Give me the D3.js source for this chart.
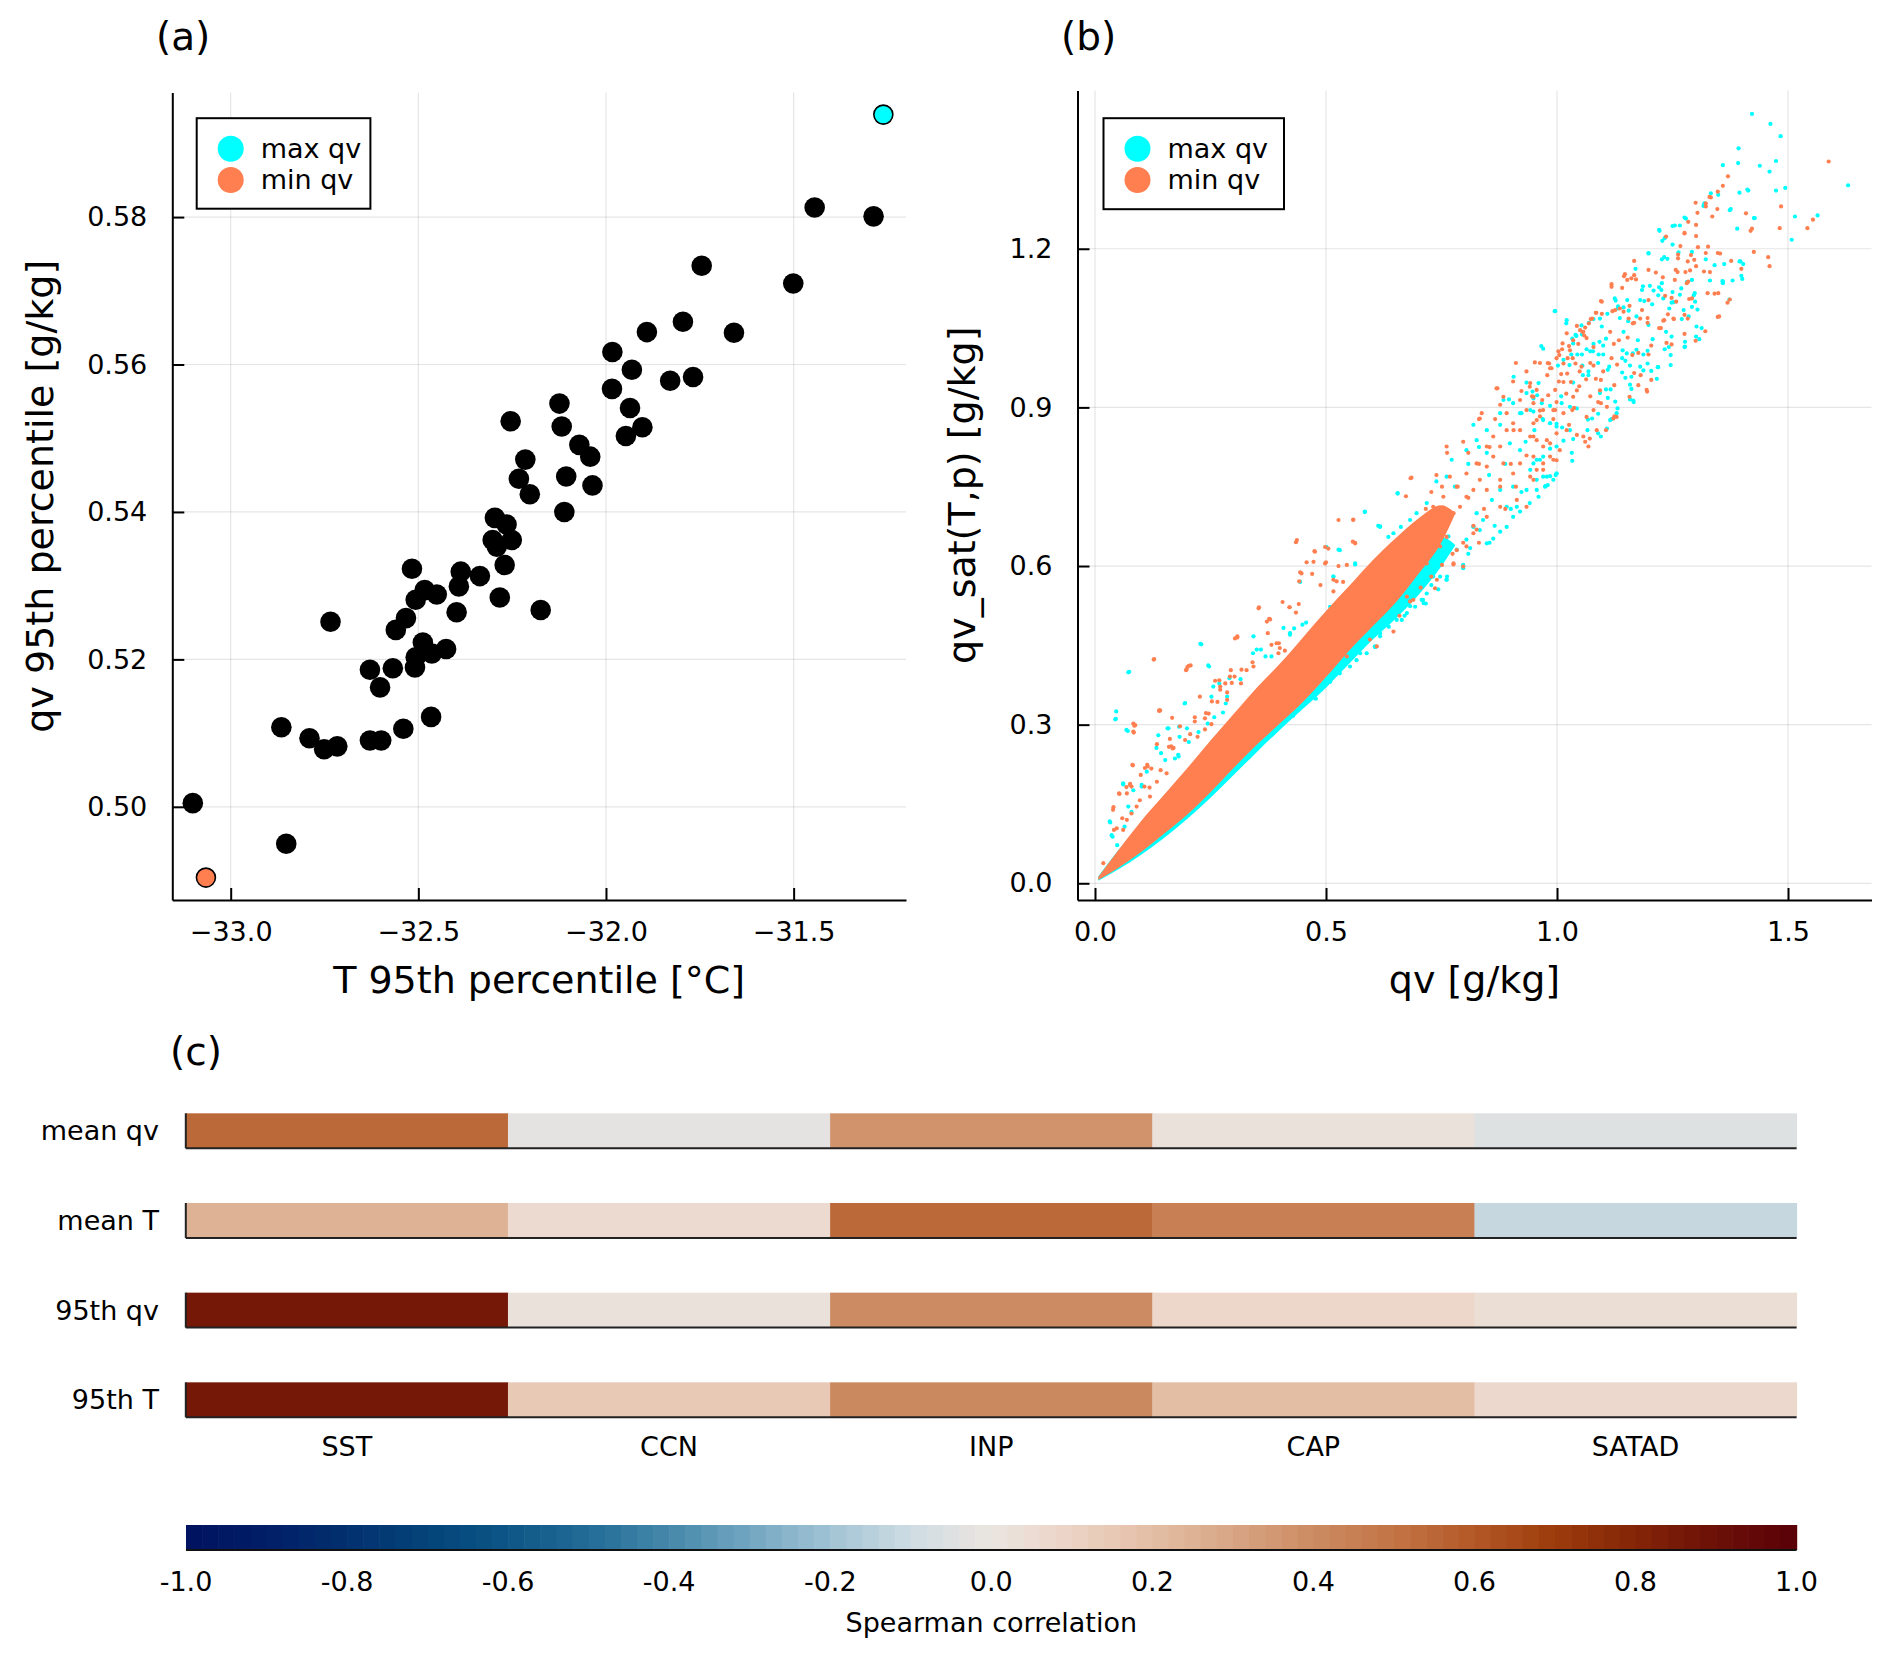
<!DOCTYPE html>
<html lang="en">
<head>
<meta charset="UTF-8">
<title>qv / T percentiles and Spearman correlation</title>
<script src="https://d3js.org/d3.v7.min.js"></script>
<style>
    body {
        margin: 0;
        background-color: #ffffff;
    }

    svg {
        display: block;
        font-family: 'DejaVu Sans', sans-serif;
    }

    .grid line {
        stroke: #000;
        stroke-opacity: 0.1;
        stroke-width: 1.2;
    }

    .axis path,
    .axis line {
        stroke: #000;
        stroke-width: 2;
    }

    .axis text {
        font-family: 'DejaVu Sans', sans-serif;
        font-size: 27px;
        fill: #000;
    }
</style>
</head>
<body>
<svg id="chart" width="1892" height="1658"></svg>
<script>
// ---------- (a) ensemble members: 95th percentiles ----------
const t95 = [-31.444, -31.287, -31.745, -31.501, -31.795, -31.891, -31.659, -31.983, -31.931, -31.829,
    -31.768, -31.984, -32.124, -31.936, -32.118, -31.903, -31.947, -32.254, -32.071, -32.042,
    -32.215, -32.232, -32.106, -32.036, -32.203, -32.111, -32.296, -32.265, -32.302, -32.251,
    -32.291, -32.270, -32.336, -32.387, -32.392, -32.283, -32.174, -32.517, -32.483, -32.507,
    -32.451, -32.398, -32.533, -32.560, -32.734, -32.488, -32.507, -32.464, -32.426, -32.629,
    -32.568, -32.509, -32.602, -32.466, -32.540, -32.865, -32.790, -32.751, -32.716, -32.629,
    -32.599, -33.101, -32.852];
const qv95 = [0.5813, 0.5801, 0.5734, 0.5710, 0.5658, 0.5644, 0.5643, 0.5617, 0.5593, 0.5578,
    0.5583, 0.5567, 0.5547, 0.5541, 0.5516, 0.5515, 0.5503, 0.5523, 0.5491, 0.5475,
    0.5471, 0.5445, 0.5448, 0.5436, 0.5424, 0.5400, 0.5392, 0.5383, 0.5362, 0.5362,
    0.5353, 0.5328, 0.5313, 0.5319, 0.5299, 0.5284, 0.5267, 0.5323, 0.5294, 0.5281,
    0.5288, 0.5264, 0.5256, 0.5240, 0.5251, 0.5223, 0.5203, 0.5208, 0.5214, 0.5186,
    0.5188, 0.5189, 0.5162, 0.5122, 0.5106, 0.5108, 0.5093, 0.5078, 0.5082, 0.5090,
    0.5090, 0.5005, 0.4950];
const maxQvMember = [-31.261, 0.5939];
const minQvMember = [-33.066, 0.4904];
const tTicks = [-33.0, -32.5, -32.0, -31.5];
const qvTicks = [0.50, 0.52, 0.54, 0.56, 0.58];

// ---------- (b) qv vs qv_sat(T,p) ----------
// dense core of each cloud, lower / upper edge read along qv
const bandQv = [0.007, 0.05, 0.1, 0.15, 0.2, 0.25, 0.3, 0.35, 0.4, 0.45, 0.5, 0.55, 0.6, 0.65, 0.7, 0.75, 0.78];
const minBandLo = [0.006, 0.029, 0.059, 0.094, 0.130, 0.172, 0.218, 0.262, 0.302, 0.343, 0.390, 0.440, 0.485, 0.530, 0.585, 0.645, 0.700];
const minBandHi = [0.012, 0.062, 0.118, 0.168, 0.218, 0.270, 0.320, 0.370, 0.415, 0.465, 0.515, 0.562, 0.610, 0.652, 0.690, 0.715, 0.700];
const maxBandLo = [0.005, 0.026, 0.054, 0.086, 0.122, 0.162, 0.205, 0.248, 0.290, 0.330, 0.370, 0.415, 0.460, 0.500, 0.545, 0.600, 0.640];
const maxBandHi = [0.013, 0.062, 0.112, 0.160, 0.205, 0.250, 0.300, 0.350, 0.400, 0.450, 0.500, 0.540, 0.580, 0.620, 0.645, 0.655, 0.640];

// scattered points outside the core [qv, qv_sat]
const maxQvPts = [
    [1.422, 1.455], [1.462, 1.436], [1.484, 1.413], [1.393, 1.390], [1.474, 1.366], [1.439, 1.357],
    [1.392, 1.362], [1.460, 1.346], [1.630, 1.320], [1.359, 1.358], [1.412, 1.312], [1.474, 1.310],
    [1.494, 1.315], [1.428, 1.258], [1.374, 1.273], [1.319, 1.286], [1.279, 1.257], [1.250, 1.243],
    [1.221, 1.236], [1.233, 1.220], [1.564, 1.263], [1.515, 1.261], [1.508, 1.217], [1.397, 1.176],
    [1.399, 1.149], [1.359, 1.138], [1.373, 1.104], [1.232, 1.184], [1.198, 1.192], [1.170, 1.162],
    [1.269, 1.125], [1.296, 1.112], [1.248, 1.098], [1.226, 1.122], [1.184, 1.122], [1.189, 1.101],
    [0.995, 1.082], [1.132, 1.091], [1.097, 1.053], [1.144, 1.043], [1.106, 1.030], [1.175, 1.027],
    [1.207, 1.029], [1.242, 1.014], [1.276, 1.014], [1.313, 1.050], [1.308, 1.029], [1.164, 1.002],
    [1.218, 0.976], [1.187, 0.970], [1.158, 0.915], [1.166, 0.910], [1.118, 0.878], [1.129, 0.889],
    [1.066, 0.857], [1.089, 0.851], [1.032, 0.814], [0.997, 0.772], [0.980, 0.753], [0.966, 1.016],
    [1.078, 1.006], [1.055, 0.979], [1.035, 0.947], [1.009, 0.921], [0.969, 0.878], [0.932, 0.835],
    [0.951, 0.857], [0.923, 0.889], [1.020, 1.059], [1.040, 1.037], [0.906, 0.958], [0.934, 0.947],
    [0.957, 0.923], [0.896, 0.915], [0.877, 0.867], [0.848, 0.814], [0.888, 0.793], [0.853, 0.772],
    [0.923, 0.740], [0.900, 0.708], [0.865, 0.676], [0.854, 0.644], [0.808, 0.623], [0.797, 0.596],
    [0.762, 0.580], [0.728, 0.564], [0.716, 0.529], [0.670, 0.506], [0.636, 0.485], [0.607, 0.447],
    [0.831, 0.825], [0.808, 0.793], [0.779, 0.750], [0.819, 0.867],
    [0.074, 0.400], [0.046, 0.325], [0.071, 0.288], [0.228, 0.453], [0.269, 0.378], [0.584, 0.703],
    [0.655, 0.738], [0.613, 0.676], [0.045, 0.311], [0.245, 0.412], [0.195, 0.341], [0.159, 0.293],
    [0.133, 0.256], [0.181, 0.240], [0.061, 0.189], [0.032, 0.117], [0.036, 0.091], [0.101, 0.183],
    [0.256, 0.372], [0.343, 0.467], [0.408, 0.483], [0.422, 0.470], [0.449, 0.489], [0.501, 0.636],
    [0.527, 0.631], [0.516, 0.580], [0.563, 0.603], [0.617, 0.675], [0.646, 0.662],
    [0.299, 0.221], [0.364, 0.274], [0.393, 0.300], [0.429, 0.317], [0.478, 0.349], [0.530, 0.407],
    [0.574, 0.435], [0.606, 0.448], [0.617, 0.467], [0.664, 0.498], [0.711, 0.530], [0.743, 0.556],
    [0.761, 0.574], [0.797, 0.602], [0.707, 0.536], [0.732, 0.580], [0.804, 0.650], [0.783, 0.631],
    [0.819, 0.675], [0.765, 0.656], [0.682, 0.524], [0.653, 0.511], [0.566, 0.451], [0.516, 0.404],
    [0.242, 0.180], [0.206, 0.145], [0.126, 0.088],
    [0.848, 0.643], [0.862, 0.652], [0.877, 0.665], [0.891, 0.674], [0.905, 0.693], [0.920, 0.703],
    [0.941, 0.719], [0.960, 0.731], [0.974, 0.750], [0.992, 0.763], [0.833, 0.668], [0.812, 0.634],
    [0.797, 0.599], [0.761, 0.574], [0.747, 0.580], [0.718, 0.548], [0.710, 0.536], [0.693, 0.523],
    [0.675, 0.511], [0.660, 0.517], [0.653, 0.498], [0.631, 0.492], [0.617, 0.473], [0.606, 0.447],
    [0.588, 0.435], [0.566, 0.422], [0.552, 0.410], [0.530, 0.397], [0.509, 0.381], [0.487, 0.366],
    [0.476, 0.350], [0.447, 0.340], [0.913, 0.712], [0.978, 0.769], [0.999, 0.775], [0.891, 0.712],
    [0.840, 0.687], [0.826, 0.700], [0.819, 0.674], [0.859, 0.725], [0.877, 0.744], [0.905, 0.750],
    [0.934, 0.744], [0.655, 0.737], [0.584, 0.702], [0.617, 0.674], [0.635, 0.655], [0.662, 0.674],
    [0.682, 0.687], [0.696, 0.700], [0.718, 0.719], [0.739, 0.760], [0.761, 0.769], [0.772, 0.801],
    [0.804, 0.819], [0.826, 0.838], [0.848, 0.857], [0.877, 0.889], [0.905, 0.908], [0.934, 0.927],
    [0.960, 0.946], [0.884, 0.914], [0.920, 0.889], [0.949, 0.892], [0.967, 0.908], [0.985, 0.870],
    [0.999, 0.864], [0.898, 0.832], [0.920, 0.819], [0.949, 0.794], [0.963, 0.801], [0.530, 0.630],
    [0.563, 0.605], [0.516, 0.580], [0.444, 0.570], [0.509, 0.523], [0.494, 0.485],
    [1.317, 1.281], [1.333, 1.305], [1.349, 1.302], [1.395, 1.306], [1.414, 1.310], [1.376, 1.275],
    [1.426, 1.258], [1.390, 1.238], [1.276, 1.259], [1.255, 1.244], [1.266, 1.244], [1.222, 1.234],
    [1.228, 1.215], [1.250, 1.208], [1.292, 1.194], [1.263, 1.193], [1.239, 1.181], [1.227, 1.180],
    [1.198, 1.191], [1.322, 1.180], [1.341, 1.169], [1.362, 1.171], [1.395, 1.176], [1.403, 1.171],
    [1.380, 1.140], [1.401, 1.143], [1.358, 1.139], [1.359, 1.135], [1.331, 1.140], [1.292, 1.141],
    [1.281, 1.137], [1.227, 1.135], [1.221, 1.127], [1.201, 1.130], [1.186, 1.129], [1.209, 1.121],
    [1.219, 1.112], [1.250, 1.118], [1.266, 1.113], [1.298, 1.116], [1.299, 1.100], [1.304, 1.085],
    [1.292, 1.090], [1.274, 1.084], [1.252, 1.099], [1.243, 1.087], [1.230, 1.106], [1.206, 1.095],
    [1.180, 1.103], [1.152, 1.103], [1.125, 1.106], [1.127, 1.102], [1.132, 1.087], [1.144, 1.089],
    [1.155, 1.083], [1.172, 1.072], [1.154, 1.063], [1.136, 1.069], [1.109, 1.077], [1.093, 1.068],
    [1.079, 1.067], [1.069, 1.060], [1.053, 1.055], [1.054, 1.038], [1.033, 1.030], [1.035, 1.021],
    [1.042, 1.035], [1.021, 1.065], [0.996, 1.082], [0.970, 1.011], [1.079, 1.020], [1.092, 1.024],
    [1.100, 1.017], [1.100, 1.000], [1.090, 1.000], [1.072, 1.006], [1.064, 1.010], [1.054, 1.000],
    [1.044, 1.000], [1.031, 1.000], [1.014, 0.990], [1.002, 0.979], [1.027, 0.980], [1.056, 0.961],
    [1.068, 0.968], [1.068, 0.961], [1.089, 0.984], [1.110, 0.971], [1.113, 0.977], [1.141, 0.993],
    [1.148, 0.988], [1.158, 0.979], [1.141, 0.966], [1.148, 0.956], [1.161, 0.958], [1.158, 0.943],
    [1.196, 0.983], [1.204, 0.969], [1.219, 0.976], [1.216, 0.954], [1.165, 0.913], [1.161, 0.935],
    [1.116, 0.934], [1.106, 0.934], [1.093, 0.927], [1.110, 0.918], [1.126, 0.911], [1.131, 0.898],
    [1.115, 0.876], [1.108, 0.860], [1.095, 0.845], [1.067, 0.877], [1.076, 0.879], [1.089, 0.888],
    [1.043, 0.898], [1.028, 0.901], [1.010, 0.908], [0.985, 0.903], [0.947, 0.930], [0.949, 0.917],
    [0.942, 0.895], [0.970, 0.876], [0.985, 0.870], [0.999, 0.869], [1.011, 0.862], [1.028, 0.857],
    [1.035, 0.840], [1.014, 0.837], [0.999, 0.826], [0.985, 0.822], [0.970, 0.807], [0.956, 0.801],
    [0.942, 0.782], [0.970, 0.769], [0.999, 0.775], [0.985, 0.770], [0.956, 0.763], [0.975, 0.751],
    [0.956, 0.744], [1.033, 0.799], [1.236, 1.043], [1.248, 1.034], [1.246, 0.999], [1.246, 0.980],
    [1.277, 1.015], [1.277, 1.024], [1.302, 1.053], [1.301, 1.034], [1.270, 1.067], [1.285, 1.072],
    [1.233, 1.010], [1.198, 1.056], [1.196, 1.007], [1.187, 1.000], [1.180, 0.977], [1.172, 1.009],
    [1.151, 1.002], [1.142, 1.008],
    [0.072, 0.399], [0.230, 0.452], [0.247, 0.410], [0.194, 0.340], [0.044, 0.310], [0.068, 0.290],
    [0.137, 0.280], [0.157, 0.293], [0.182, 0.296], [0.199, 0.293], [0.183, 0.277], [0.203, 0.267],
    [0.224, 0.286], [0.244, 0.302], [0.258, 0.314], [0.277, 0.323], [0.291, 0.388], [0.315, 0.386],
    [0.286, 0.353], [0.252, 0.353], [0.283, 0.340], [0.342, 0.435], [0.350, 0.442], [0.359, 0.442],
    [0.369, 0.429], [0.382, 0.429], [0.422, 0.473], [0.431, 0.482], [0.457, 0.493], [0.143, 0.246],
    [0.180, 0.243], [0.173, 0.236], [0.152, 0.233], [0.112, 0.211], [0.101, 0.186], [0.083, 0.176],
    [0.061, 0.187], [0.072, 0.145], [0.079, 0.135], [0.033, 0.115], [0.038, 0.088], [0.064, 0.107],
    [0.048, 0.072]
];
const minQvPts = [
    [1.588, 1.365], [1.370, 1.337], [1.359, 1.319], [1.348, 1.308], [1.330, 1.298], [1.322, 1.280],
    [1.336, 1.261], [1.301, 1.245], [1.276, 1.229], [1.267, 1.205], [1.290, 1.188], [1.261, 1.156],
    [1.284, 1.138], [1.322, 1.192], [1.348, 1.192], [1.485, 1.280], [1.482, 1.239], [1.542, 1.239],
    [1.554, 1.255], [1.460, 1.167], [1.422, 1.238], [1.457, 1.184], [1.198, 1.160], [1.161, 1.144],
    [1.147, 1.152], [1.118, 1.128], [1.095, 1.101], [1.120, 1.082], [1.196, 1.069], [1.230, 1.064],
    [1.276, 1.075], [1.348, 1.071], [1.221, 1.050], [1.164, 1.059], [1.055, 1.043], [1.026, 1.016],
    [1.003, 1.006], [0.980, 0.984], [1.009, 0.963], [1.049, 0.968], [1.072, 0.984], [1.118, 0.993],
    [1.198, 1.000], [1.195, 0.930], [1.124, 0.942], [1.095, 0.952], [1.072, 0.921], [1.037, 0.899],
    [1.089, 0.910], [1.061, 0.835], [1.106, 0.857], [1.124, 0.883], [1.026, 0.867], [0.992, 0.878],
    [0.963, 0.894], [0.946, 0.921], [0.923, 0.931], [0.934, 0.968], [0.963, 0.984], [0.911, 0.984],
    [0.871, 0.936], [0.877, 0.905], [0.866, 0.878], [0.831, 0.878], [0.906, 0.857], [0.934, 0.809],
    [0.900, 0.793], [0.877, 0.750], [0.911, 0.750], [0.888, 0.708], [0.842, 0.708], [0.819, 0.676],
    [0.831, 0.644], [0.797, 0.644], [0.774, 0.623], [0.751, 0.602], [0.728, 0.580], [0.705, 0.559],
    [0.682, 0.533], [0.659, 0.506], [0.797, 0.835], [0.808, 0.814], [0.831, 0.793], [0.854, 0.825],
    [0.762, 0.814], [0.739, 0.772], [0.728, 0.740], [0.716, 0.708], [0.751, 0.750], [0.785, 0.750],
    [0.808, 0.729], [0.837, 0.889], [0.683, 0.766],
    [0.127, 0.423], [0.200, 0.409], [0.435, 0.645], [0.527, 0.687], [0.558, 0.646], [0.498, 0.636],
    [0.355, 0.522], [0.085, 0.298], [0.139, 0.327], [0.269, 0.384], [0.303, 0.463], [0.372, 0.495],
    [0.470, 0.585], [0.488, 0.564], [0.406, 0.532], [0.165, 0.259], [0.114, 0.221], [0.068, 0.182],
    [0.039, 0.139], [0.141, 0.327], [0.083, 0.302], [0.083, 0.287], [0.082, 0.223], [0.053, 0.169],
    [0.076, 0.186], [0.108, 0.218], [0.198, 0.404], [0.207, 0.412], [0.240, 0.322], [0.184, 0.297],
    [0.170, 0.256], [0.216, 0.306], [0.308, 0.467], [0.377, 0.500], [0.421, 0.522], [0.437, 0.649],
    [0.475, 0.628], [0.458, 0.607], [0.500, 0.607], [0.444, 0.588], [0.442, 0.571], [0.559, 0.688],
    [0.563, 0.644], [0.523, 0.571], [0.516, 0.552], [0.393, 0.454], [0.400, 0.445], [0.292, 0.391],
    [0.271, 0.372], [0.227, 0.353], [0.253, 0.344], [0.296, 0.379], [0.317, 0.404], [0.343, 0.410],
    [0.458, 0.372], [0.487, 0.397], [0.545, 0.429], [0.595, 0.461], [0.646, 0.476], [0.689, 0.536],
    [0.740, 0.574], [0.776, 0.603], [0.804, 0.637], [0.826, 0.669], [0.610, 0.448],
    [0.869, 0.936], [0.884, 0.920], [0.905, 0.949], [0.833, 0.879], [0.761, 0.826], [0.685, 0.767],
    [0.673, 0.732], [0.559, 0.687], [0.563, 0.643], [0.505, 0.633], [0.476, 0.627], [0.473, 0.608],
    [0.498, 0.605], [0.527, 0.600], [0.545, 0.602], [0.516, 0.574], [0.537, 0.570], [0.447, 0.586],
    [0.736, 0.558], [0.797, 0.599], [0.776, 0.605], [0.783, 0.630], [0.819, 0.662], [0.848, 0.693],
    [0.877, 0.712], [0.913, 0.725], [0.934, 0.712], [0.949, 0.763], [0.970, 0.782], [0.992, 0.801],
    [1.006, 0.819], [0.978, 0.838], [0.949, 0.845], [0.920, 0.857], [0.905, 0.870], [0.949, 0.870],
    [0.963, 0.883], [0.992, 0.895], [0.981, 0.923], [0.949, 0.920], [0.934, 0.895], [0.891, 0.857],
    [0.877, 0.826], [0.862, 0.807], [0.848, 0.788], [0.833, 0.763], [0.819, 0.744], [0.804, 0.731],
    [0.790, 0.712], [0.776, 0.700], [0.761, 0.687], [0.747, 0.674], [0.732, 0.656], [0.718, 0.637],
    [0.703, 0.618], [0.689, 0.599], [0.675, 0.580], [0.660, 0.561], [0.646, 0.542], [0.631, 0.523],
    [0.610, 0.511], [0.588, 0.485], [0.768, 0.769], [0.783, 0.750], [0.804, 0.775], [0.826, 0.794],
    [0.848, 0.826], [0.862, 0.845], [0.891, 0.889], [0.920, 0.914], [0.941, 0.939], [0.848, 0.744],
    [0.877, 0.763], [0.905, 0.775], [0.920, 0.794], [0.884, 0.794], [0.732, 0.712], [0.754, 0.731],
    [0.718, 0.687], [0.696, 0.656], [0.747, 0.637], [0.761, 0.655], [0.718, 0.605], [0.675, 0.542],
    [1.300, 1.287], [1.322, 1.286], [1.304, 1.268], [1.333, 1.297], [1.347, 1.275], [1.284, 1.251],
    [1.276, 1.230], [1.236, 1.223], [1.301, 1.224], [1.409, 1.267], [1.419, 1.234], [1.426, 1.194],
    [1.327, 1.204], [1.353, 1.191], [1.377, 1.177], [1.399, 1.162], [1.369, 1.098], [1.351, 1.072],
    [1.321, 1.044], [1.300, 1.026], [1.276, 1.039], [1.248, 1.019], [1.237, 1.022], [1.283, 1.068],
    [1.253, 1.067], [1.225, 1.050], [1.204, 1.017], [1.196, 1.060], [1.180, 1.068], [1.155, 1.068],
    [1.167, 1.060], [1.144, 1.081], [1.123, 1.020], [1.153, 1.032], [1.163, 0.999], [1.176, 1.003],
    [1.134, 1.027], [1.115, 1.043], [1.097, 1.100], [1.085, 1.079], [1.073, 1.067], [1.057, 1.043],
    [1.059, 1.036], [1.046, 1.020], [1.043, 1.054], [1.011, 1.010], [1.005, 0.999], [1.014, 0.983],
    [0.983, 0.983], [0.979, 0.961], [0.952, 0.985], [0.985, 0.974], [1.022, 0.964], [1.030, 0.948],
    [1.014, 0.948], [1.053, 0.977], [1.079, 0.979], [1.100, 0.968], [1.130, 0.981], [1.167, 0.965],
    [1.181, 0.961], [1.204, 0.952], [1.176, 0.942], [1.194, 0.933], [1.157, 0.920], [1.093, 0.932],
    [1.084, 0.954], [1.063, 0.953], [1.048, 0.940], [1.043, 0.932], [1.035, 0.920], [1.020, 0.926],
    [1.004, 0.949], [0.996, 0.933], [0.999, 0.910], [0.968, 0.914], [0.956, 0.933], [0.942, 0.946],
    [0.949, 0.908], [0.970, 0.895], [0.956, 0.876], [0.996, 0.895], [1.014, 0.889], [1.033, 0.895],
    [1.064, 0.882], [1.079, 0.895], [1.095, 0.908], [1.108, 0.901], [1.129, 0.882], [1.122, 0.879],
    [1.086, 0.857], [1.071, 0.841], [1.057, 0.845], [1.068, 0.826], [1.043, 0.848], [1.021, 0.857],
    [0.999, 0.851], [0.985, 0.832], [0.970, 0.826], [0.956, 0.838], [0.942, 0.845], [0.949, 0.807],
    [0.970, 0.794], [0.985, 0.807], [0.999, 0.800], [0.956, 0.782], [0.942, 0.769],
    [1.145, 1.148], [1.152, 1.141], [1.167, 1.150], [1.171, 1.142], [1.141, 1.126], [1.118, 1.133],
    [1.167, 1.177], [1.214, 1.155], [1.229, 1.146], [1.234, 1.111], [1.248, 1.107], [1.262, 1.182],
    [1.262, 1.189], [1.283, 1.176], [1.278, 1.156], [1.281, 1.135], [1.288, 1.159], [1.301, 1.167],
    [1.297, 1.179], [1.305, 1.203], [1.257, 1.160], [1.255, 1.141], [1.318, 1.157], [1.331, 1.156],
    [1.349, 1.116], [1.374, 1.104], [1.326, 1.116], [1.341, 1.115], [1.292, 1.106], [1.286, 1.105],
    [1.258, 1.100], [1.240, 1.076], [1.252, 1.068], [1.232, 1.065], [1.198, 1.103], [1.184, 1.084],
    [1.157, 1.092], [1.136, 1.087], [1.126, 1.084], [1.097, 1.077], [1.084, 1.079], [1.076, 1.068],
    [1.069, 1.059], [1.061, 1.051], [1.050, 1.046], [1.064, 1.031], [1.079, 1.014], [1.035, 1.027],
    [1.021, 1.040], [1.012, 1.021], [0.999, 0.993], [0.988, 0.974], [1.028, 1.008], [1.023, 0.993],
    [1.034, 0.993], [1.040, 0.983],
    [0.354, 0.520], [0.421, 0.522], [0.441, 0.528], [0.435, 0.512], [0.379, 0.499], [0.374, 0.473],
    [0.308, 0.465], [0.128, 0.424], [0.203, 0.411], [0.197, 0.403], [0.382, 0.451], [0.398, 0.454],
    [0.411, 0.440], [0.397, 0.435], [0.341, 0.418], [0.328, 0.403], [0.294, 0.403], [0.260, 0.383],
    [0.282, 0.378], [0.302, 0.391], [0.316, 0.378], [0.271, 0.366], [0.286, 0.361], [0.286, 0.347],
    [0.265, 0.343], [0.246, 0.321], [0.238, 0.312], [0.252, 0.301], [0.216, 0.314], [0.238, 0.291],
    [0.222, 0.277], [0.206, 0.282], [0.195, 0.271], [0.162, 0.273], [0.160, 0.258], [0.168, 0.255],
    [0.134, 0.263], [0.139, 0.326], [0.167, 0.313], [0.087, 0.299], [0.084, 0.285], [0.113, 0.224],
    [0.099, 0.205], [0.081, 0.224], [0.076, 0.188], [0.079, 0.183], [0.052, 0.170], [0.069, 0.170],
    [0.040, 0.144], [0.059, 0.123], [0.047, 0.104], [0.041, 0.101], [0.018, 0.038], [0.122, 0.217],
    [0.142, 0.214], [0.155, 0.208], [0.134, 0.192], [0.118, 0.181], [0.107, 0.183], [0.119, 0.164],
    [0.097, 0.157], [0.090, 0.145], [0.079, 0.132], [0.069, 0.120], [0.061, 0.101]
];
const qvXTicks = [0.0, 0.5, 1.0, 1.5];
const qsatTicks = [0.0, 0.3, 0.6, 0.9, 1.2];

// ---------- (c) Spearman correlation ----------
const predictors = ["SST", "CCN", "INP", "CAP", "SATAD"];
const targets = ["mean qv", "mean T", "95th qv", "95th T"];
const corrMeanQv = [0.54, -0.02, 0.37, 0.02, -0.05];
const corrMeanT = [0.25, 0.06, 0.54, 0.45, -0.12];
const corr95Qv = [0.86, 0.02, 0.40, 0.08, 0.04];
const corr95T = [0.86, 0.15, 0.41, 0.20, 0.07];
const cbarTicks = [-1.0, -0.8, -0.6, -0.4, -0.2, 0.0, 0.2, 0.4, 0.6, 0.8, 1.0];

// diverging palette (blue - light - brown)
const palette = ["#001260", "#011e66", "#02306f", "#044479", "#0d5686", "#236c98", "#4588aa",
    "#72a6c1", "#a1c3d5", "#cfdce3", "#ebe5e0", "#ecd3c5", "#e3bea5", "#d8a585", "#cc8b62",
    "#c27445", "#b35827", "#9c3b0b", "#842508", "#6c1008", "#590008"];

const svg = d3.select("#chart");
const minus = s => s.replace("-", "\u2212");

// ----- shared helpers -----
function drawFrame(g, x, y, xTicks, yTicks, xFmt, yFmt) {
    const [x0, x1] = x.range();
    const [y0, y1] = y.range();

    const grid = g.append("g").attr("class", "grid");
    grid.selectAll(".gx").data(xTicks).enter().append("line")
        .attr("x1", d => x(d)).attr("x2", d => x(d))
        .attr("y1", y0).attr("y2", y1);
    grid.selectAll(".gy").data(yTicks).enter().append("line")
        .attr("x1", x0).attr("x2", x1)
        .attr("y1", d => y(d)).attr("y2", d => y(d));

    g.append("g").attr("class", "axis")
        .attr("transform", `translate(0,${y0})`)
        .call(d3.axisBottom(x).tickValues(xTicks).tickFormat(xFmt)
            .tickSizeInner(-12).tickSizeOuter(0).tickPadding(22));

    g.append("g").attr("class", "axis")
        .attr("transform", `translate(${x0},0)`)
        .call(d3.axisLeft(y).tickValues(yTicks).tickFormat(yFmt)
            .tickSizeInner(-12).tickSizeOuter(0).tickPadding(25));
}

function drawLegend(g, left, top, w, h) {
    const box = g.append("g");
    box.append("rect")
        .attr("x", left).attr("y", top).attr("width", w).attr("height", h)
        .attr("fill", "#fff").attr("stroke", "#000").attr("stroke-width", 2);
    const items = [{ label: "max qv", color: "#00ffff" }, { label: "min qv", color: "#ff7f50" }];
    items.forEach((it, i) => {
        const cy = top + 30.5 + i * 31.3;
        box.append("circle").attr("cx", left + 34).attr("cy", cy).attr("r", 13).attr("fill", it.color);
        box.append("text").attr("x", left + 64).attr("y", cy).attr("dy", "0.35em")
            .attr("font-size", 27).text(it.label);
    });
}

// ================= panel (a) =================
const xA = d3.scaleLinear().domain([-33.1556, -31.2006]).range([172.3, 906]);
const yA = d3.scaleLinear().domain([0.48736, 0.5969]).range([900, 92.5]);
const gA = svg.append("g");

drawFrame(gA, xA, yA, tTicks, qvTicks, d => minus(d.toFixed(1)), d => d.toFixed(2));

gA.append("g").selectAll("circle")
    .data(d3.range(t95.length))
    .enter().append("circle")
    .attr("cx", i => xA(t95[i]))
    .attr("cy", i => yA(qv95[i]))
    .attr("r", 10.3)
    .attr("fill", "#000");

gA.append("circle")
    .attr("cx", xA(maxQvMember[0])).attr("cy", yA(maxQvMember[1])).attr("r", 9.5)
    .attr("fill", "#00ffff").attr("stroke", "#000").attr("stroke-width", 1.6);
gA.append("circle")
    .attr("cx", xA(minQvMember[0])).attr("cy", yA(minQvMember[1])).attr("r", 9.5)
    .attr("fill", "#ff7f50").attr("stroke", "#000").attr("stroke-width", 1.6);

drawLegend(gA, 196.7, 118.2, 173.7, 90.5);

gA.append("text")
    .attr("x", (xA.range()[0] + xA.range()[1]) / 2).attr("y", 980).attr("dy", "0.35em")
    .attr("text-anchor", "middle").attr("font-size", 38)
    .text("T 95th percentile [°C]");
gA.append("text")
    .attr("transform", `translate(40,${(yA.range()[0] + yA.range()[1]) / 2}) rotate(-90)`)
    .attr("dy", "0.35em").attr("text-anchor", "middle").attr("font-size", 38)
    .text("qv 95th percentile [g/kg]");
gA.append("text").attr("x", 156).attr("y", 50).attr("font-size", 39).text("(a)");

// ================= panel (b) =================
const xB = d3.scaleLinear().domain([-0.0379, 1.6807]).range([1077.5, 1871.5]);
const yB = d3.scaleLinear().domain([-0.0316, 1.4993]).range([900, 90.5]);
const gB = svg.append("g");

drawFrame(gB, xB, yB, qvXTicks, qsatTicks, d => d.toFixed(1), d => d.toFixed(1));

const band = (lo, hi) => d3.area()
    .x(i => xB(bandQv[i]))
    .y0(i => yB(lo[i]))
    .y1(i => yB(hi[i]))
    .curve(d3.curveMonotoneX)(d3.range(bandQv.length));

// max qv series first, min qv drawn on top
gB.append("path").attr("d", band(maxBandLo, maxBandHi)).attr("fill", "#00ffff");
gB.append("g").selectAll("circle").data(maxQvPts).enter().append("circle")
    .attr("cx", d => xB(d[0])).attr("cy", d => yB(d[1])).attr("r", 2.1).attr("fill", "#00ffff");
gB.append("path").attr("d", band(minBandLo, minBandHi)).attr("fill", "#ff7f50");
gB.append("g").selectAll("circle").data(minQvPts).enter().append("circle")
    .attr("cx", d => xB(d[0])).attr("cy", d => yB(d[1])).attr("r", 2.1).attr("fill", "#ff7f50");

drawLegend(gB, 1103.5, 118.2, 180.5, 91);

gB.append("text")
    .attr("x", (xB.range()[0] + xB.range()[1]) / 2).attr("y", 980).attr("dy", "0.35em")
    .attr("text-anchor", "middle").attr("font-size", 38)
    .text("qv [g/kg]");
gB.append("text")
    .attr("transform", `translate(962,${(yB.range()[0] + yB.range()[1]) / 2}) rotate(-90)`)
    .attr("dy", "0.35em").attr("text-anchor", "middle").attr("font-size", 38)
    .text("qv_sat(T,p) [g/kg]");
gB.append("text").attr("x", 1061).attr("y", 50).attr("font-size", 39).text("(b)");

// ================= panel (c) =================
const color = d3.scaleLinear()
    .domain(d3.range(palette.length).map(i => -1 + 2 * i / (palette.length - 1)))
    .range(palette)
    .clamp(true);

const xC = d3.scaleBand().domain(predictors).range([185.8, 1796.6]);
const yC = d3.scaleBand().domain(targets).range([1113.3, 1417.3]).paddingInner(0.61);
const rows = [corrMeanQv, corrMeanT, corr95Qv, corr95T];
const gC = svg.append("g");

targets.forEach((t, r) => {
    const y0 = yC(t);
    const row = gC.append("g");
    row.selectAll("rect").data(rows[r]).enter().append("rect")
        .attr("x", (d, i) => xC(predictors[i]))
        .attr("y", y0)
        .attr("width", xC.bandwidth() + 0.5)
        .attr("height", yC.bandwidth())
        .attr("fill", d => color(d));
    row.append("line")
        .attr("x1", xC.range()[0]).attr("x2", xC.range()[1])
        .attr("y1", y0 + yC.bandwidth()).attr("y2", y0 + yC.bandwidth())
        .attr("stroke", "#222").attr("stroke-width", 2);
    row.append("line")
        .attr("x1", xC.range()[0]).attr("x2", xC.range()[0])
        .attr("y1", y0).attr("y2", y0 + yC.bandwidth())
        .attr("stroke", "#222").attr("stroke-width", 2);
    row.append("text")
        .attr("x", 159).attr("y", y0 + yC.bandwidth() / 2).attr("dy", "0.35em")
        .attr("text-anchor", "end").attr("font-size", 27)
        .text(t);
});

gC.selectAll(".col-label").data(predictors).enter().append("text")
    .attr("x", d => xC(d) + xC.bandwidth() / 2)
    .attr("y", 1447).attr("dy", "0.35em")
    .attr("text-anchor", "middle").attr("font-size", 27)
    .text(d => d);

gC.append("text").attr("x", 170).attr("y", 1065).attr("font-size", 39).text("(c)");

// colour bar
const xCb = d3.scaleLinear().domain([-1, 1]).range([186, 1796.6]);
const nSteps = 100;
gC.append("g").selectAll("rect")
    .data(d3.range(nSteps))
    .enter().append("rect")
    .attr("x", i => xCb(-1 + 2 * i / nSteps))
    .attr("y", 1525)
    .attr("width", xCb(-1 + 2 / nSteps) - xCb(-1) + 0.6)
    .attr("height", 25)
    .attr("fill", i => color(-1 + 2 * (i + 0.5) / nSteps));

gC.append("line")
    .attr("x1", xCb.range()[0]).attr("x2", xCb.range()[1])
    .attr("y1", 1550).attr("y2", 1550)
    .attr("stroke", "#111").attr("stroke-width", 2);

gC.selectAll(".cb-tick").data(cbarTicks).enter().append("text")
    .attr("x", d => xCb(d)).attr("y", 1582).attr("dy", "0.35em")
    .attr("text-anchor", "middle").attr("font-size", 27)
    .text(d => d.toFixed(1));

gC.append("text")
    .attr("x", (xCb.range()[0] + xCb.range()[1]) / 2).attr("y", 1623).attr("dy", "0.35em")
    .attr("text-anchor", "middle").attr("font-size", 27)
    .text("Spearman correlation");
</script>
</body>
</html>
